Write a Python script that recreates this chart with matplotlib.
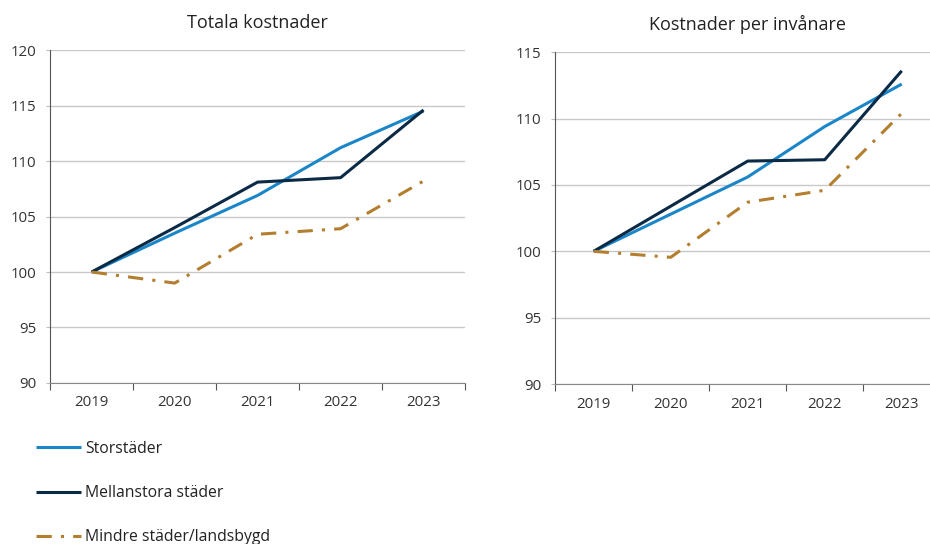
import matplotlib.pyplot as plt
import numpy as np

plt.rcParams['font.family'] = ['Open Sans', 'DejaVu Sans']

years = ["2019", "2020", "2021", "2022", "2023"]

# Totala kostnader (index 2019 = 100)
total_stor = [100, 103.5, 106.9, 111.2, 114.5]
total_mellan = [100, 104.0, 108.1, 108.5, 114.6]
total_mindre = [100, 99.0, 103.4, 103.9, 108.2]

# Kostnader per invånare (index 2019 = 100)
capita_stor = [100, 102.8, 105.6, 109.4, 112.6]
capita_mellan = [100, 103.4, 106.8, 106.9, 113.6]
capita_mindre = [100, 99.55, 103.7, 104.6, 110.4]

series_names = ["Storstäder", "Mellanstora städer", "Mindre städer/landsbygd"]
colors = ["#1a86c8", "#0b2a45", "#b47e2f"]
styles = ["-", "-", (0, (5, 3, 1, 3))]

fig = plt.figure(figsize=(9.3, 5.44), dpi=100)
ax1 = fig.add_axes([0.054, 0.296, 0.446, 0.612])
ax2 = fig.add_axes([0.597, 0.294, 0.414, 0.610])


def draw(ax, data, title, ymax):
    x = np.arange(len(years))
    handles = []
    for vals, c, ls, name in zip(data, colors, styles, series_names):
        h, = ax.plot(x, vals, color=c, linestyle=ls, linewidth=2.2,
                     solid_capstyle='butt', label=name)
        handles.append(h)
    ax.set_xlim(-0.5, len(years) - 0.5)
    ax.set_ylim(90, ymax)
    ax.set_yticks(np.arange(90, ymax + 1, 5))
    ax.set_xticks(np.arange(-0.5, len(years), 1))
    ax.set_xticklabels([])
    ax.set_xticks(x, minor=True)
    ax.set_xticklabels(years, minor=True)
    ax.tick_params(axis='x', which='major', length=5, color='#555555')
    ax.tick_params(axis='x', which='minor', length=0, pad=9,
                   labelsize=10.8, labelcolor='#333333')
    ax.tick_params(axis='y', length=3, color='#bbbbbb', pad=7,
                   labelsize=10.8, labelcolor='#333333')
    ax.grid(axis='y', color='#c8c8c8', linewidth=1)
    ax.set_axisbelow(True)
    for s in ['top', 'right']:
        ax.spines[s].set_visible(False)
    ax.spines['left'].set_color('#555555')
    ax.spines['bottom'].set_color('#888888')
    ax.set_title(title, fontsize=13, color='#222222', pad=16)
    return handles


handles = draw(ax1, [total_stor, total_mellan, total_mindre],
               "Totala kostnader", 120)
draw(ax2, [capita_stor, capita_mellan, capita_mindre],
     "Kostnader per invånare", 115)

fig.legend(handles=handles, loc='upper left', bbox_to_anchor=(0.032, 0.201),
           frameon=False, fontsize=11.3, labelspacing=1.8, handlelength=2.87,
           handletextpad=0.25, borderaxespad=0, labelcolor='#222222')

fig.savefig("out.png", dpi=100)
